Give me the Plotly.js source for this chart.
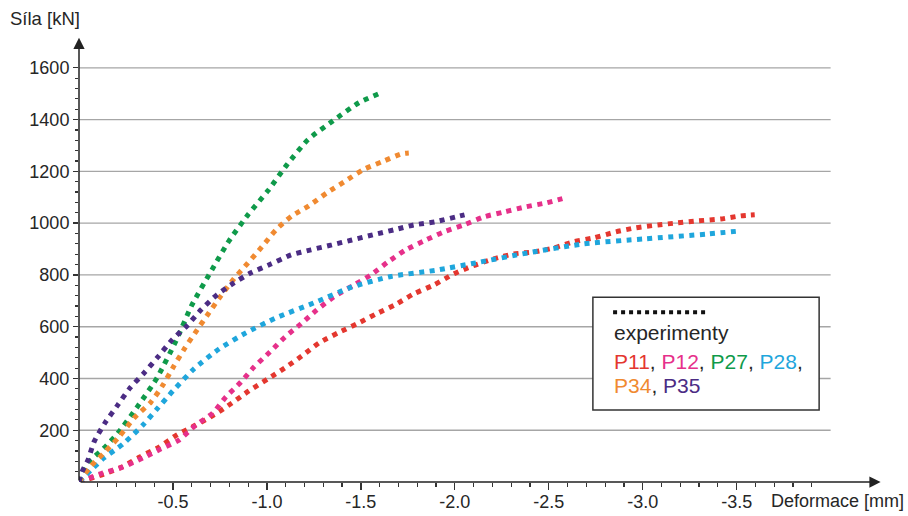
<!DOCTYPE html>
<html>
<head>
<meta charset="utf-8">
<script src="https://cdn.plot.ly/plotly-3.0.1.min.js"></script>
<style>html,body{margin:0;padding:0;background:#fff;}#chart{width:908px;height:516px;}</style>
</head>
<body>
<div id="chart"></div>
<script>
// ---- data (deformation [mm], force [kN]) ----
const xP11 = [0, -0.133, -0.229, -0.324, -0.426, -0.521, -0.622, -0.718, -0.814, -0.904, -1.005, -1.096, -1.186, -1.277, -1.378, -1.479, -1.580, -1.681, -1.782, -1.888, -1.995, -2.096, -2.207, -2.314, -2.420, -2.527, -2.633, -2.739, -2.856, -2.963, -3.080, -3.186, -3.298, -3.415, -3.521, -3.596];
const yP11 = [0, 31, 58, 97, 135, 182, 220, 259, 305, 352, 398, 441, 487, 537, 576, 611, 649, 684, 727, 761, 804, 835, 862, 881, 889, 904, 928, 943, 966, 982, 993, 1001, 1009, 1016, 1028, 1032];

const xP12 = [0, -0.128, -0.234, -0.340, -0.436, -0.532, -0.622, -0.713, -0.782, -0.862, -0.931, -1.016, -1.096, -1.181, -1.266, -1.356, -1.463, -1.553, -1.644, -1.739, -1.846, -1.941, -2.048, -2.154, -2.261, -2.378, -2.484, -2.590];
const yP12 = [0, 35, 58, 93, 128, 162, 220, 267, 329, 386, 444, 502, 560, 611, 665, 715, 761, 800, 850, 897, 935, 966, 993, 1024, 1043, 1063, 1078, 1098];

const xP27 = [0, -0.053, -0.133, -0.207, -0.314, -0.415, -0.516, -0.601, -0.713, -0.798, -0.899, -1.005, -1.106, -1.218, -1.351, -1.489, -1.596];
const yP27 = [0, 77, 131, 189, 294, 402, 545, 684, 827, 931, 1032, 1125, 1225, 1322, 1395, 1465, 1500];

const xP28 = [0, -0.064, -0.133, -0.234, -0.340, -0.420, -0.500, -0.612, -0.745, -0.888, -1.048, -1.250, -1.447, -1.660, -1.899, -2.122, -2.388, -2.686, -3.005, -3.346, -3.521];
const yP28 = [0, 46, 93, 147, 220, 286, 352, 437, 514, 576, 634, 692, 752, 794, 818, 848, 885, 920, 939, 958, 970];

const xP34 = [0, -0.064, -0.138, -0.213, -0.293, -0.383, -0.447, -0.505, -0.564, -0.628, -0.691, -0.755, -0.824, -0.899, -0.973, -1.048, -1.133, -1.223, -1.319, -1.410, -1.511, -1.612, -1.718, -1.755];
const yP34 = [0, 62, 116, 174, 247, 309, 375, 448, 518, 587, 653, 719, 785, 846, 908, 974, 1028, 1067, 1117, 1159, 1206, 1237, 1268, 1271];

const xP35 = [0, -0.016, -0.048, -0.080, -0.138, -0.207, -0.271, -0.346, -0.420, -0.495, -0.574, -0.649, -0.734, -0.824, -0.915, -1.021, -1.128, -1.234, -1.346, -1.452, -1.564, -1.676, -1.782, -1.894, -2.005, -2.074];
const yP35 = [0, 39, 85, 155, 228, 298, 363, 421, 483, 549, 603, 665, 723, 769, 808, 842, 877, 897, 916, 935, 955, 974, 993, 1005, 1024, 1036];

const seriesNames = ['P11', 'P12', 'P27', 'P28', 'P34', 'P35'];
const xTickVals = [-0.5, -1.0, -1.5, -2.0, -2.5, -3.0, -3.5];
const xTickText = ['-0.5', '-1.0', '-1.5', '-2.0', '-2.5', '-3.0', '-3.5'];
const yTickVals = [200, 400, 600, 800, 1000, 1200, 1400, 1600];
const yTickText = ['200', '400', '600', '800', '1000', '1200', '1400', '1600'];
const xTitle = 'Deformace [mm]';
const yTitle = 'Síla [kN]';
const legendTitle = 'experimenty';

// ---- styles ----
const colors = {P11: '#e4372f', P12: '#e6308a', P27: '#0f9a4a', P28: '#1fa6dc', P34: '#f08a31', P35: '#4b2c84'};
const FONT = 'Liberation Sans, Arial, sans-serif';
const TXT = '#262626';

const seriesX = {P11: xP11, P12: xP12, P27: xP27, P28: xP28, P34: xP34, P35: xP35};
const seriesY = {P11: yP11, P12: yP12, P27: yP27, P28: yP28, P34: yP34, P35: yP35};

const traces = seriesNames.map(n => ({
  type: 'scatter', mode: 'lines', name: n,
  x: seriesX[n], y: seriesY[n],
  line: {color: colors[n], width: 5, dash: '5px,5.5px', shape: 'spline', smoothing: 0.6},
  cliponaxis: false, hoverinfo: 'skip'
}));

// minor tick positions (axis config)
const xMinor = [];
for (let i = 1; i <= 39; i++) { if (i % 5 !== 0) xMinor.push(-i / 10); }
const yMinor = [];
for (let v = 40; v < 1600; v += 40) { if (v % 200 !== 0) yMinor.push(v); }

const shapes = yTickVals.map(v => ({
  type: 'line', xref: 'x', yref: 'y', x0: 0, x1: -4.0, y0: v, y1: v,
  line: {color: '#a6a6a6', width: 1.4}, layer: 'below'
}));
// legend box
shapes.push({type: 'rect', xref: 'paper', yref: 'paper', x0: 0.636, x1: 0.916, y0: 0.159, y1: 0.408,
  line: {color: '#333', width: 1.5}, fillcolor: '#ffffff', layer: 'above'});
shapes.push({type: 'line', xref: 'paper', yref: 'paper', x0: 0.661, x1: 0.778, y0: 0.375, y1: 0.375,
  line: {color: '#111', width: 4, dash: '4px,4px'}, layer: 'above'});

function span(n) { return '<span style="color:' + colors[n] + '">' + n + '</span>'; }

const annotations = [
  // axis arrows
  {xref: 'x', yref: 'y', axref: 'x', ayref: 'y', x: -4.266, y: 0, ax: 0, ay: 0, text: '',
   showarrow: true, arrowhead: 2, arrowsize: 1.5, arrowwidth: 1.5, arrowcolor: '#222', standoff: 0, startstandoff: 0},
  {xref: 'x', yref: 'y', axref: 'x', ayref: 'y', x: 0, y: 1716, ax: 0, ay: 0, text: '',
   showarrow: true, arrowhead: 2, arrowsize: 1.5, arrowwidth: 1.5, arrowcolor: '#222', standoff: 0, startstandoff: 0},
  // axis titles
  {xref: 'paper', yref: 'paper', x: -0.088, y: 1.024, xanchor: 'left', yanchor: 'middle', showarrow: false,
   text: yTitle, font: {family: FONT, size: 18.5, color: TXT}},
  {xref: 'paper', yref: 'paper', x: 1.024, y: -0.043, xanchor: 'right', yanchor: 'middle', showarrow: false,
   text: xTitle, font: {family: FONT, size: 18, color: TXT}},
  // legend text
  {xref: 'paper', yref: 'paper', x: 0.660, y: 0.329, xanchor: 'left', yanchor: 'middle', showarrow: false,
   text: legendTitle, font: {family: FONT, size: 21, color: TXT}},
  {xref: 'paper', yref: 'paper', x: 0.660, y: 0.265, xanchor: 'left', yanchor: 'middle', showarrow: false,
   text: span('P11') + ', ' + span('P12') + ', ' + span('P27') + ', ' + span('P28') + ',', font: {family: FONT, size: 21, color: TXT}},
  {xref: 'paper', yref: 'paper', x: 0.660, y: 0.214, xanchor: 'left', yanchor: 'middle', showarrow: false,
   text: span('P34') + ', ' + span('P35'), font: {family: FONT, size: 21, color: TXT}}
];

const layout = {
  width: 908, height: 516,
  margin: {l: 79, r: 21, t: 29, b: 34},
  paper_bgcolor: '#fff', plot_bgcolor: '#fff',
  showlegend: false,
  font: {family: FONT, size: 18, color: TXT},
  xaxis: {
    range: [0, -4.3], showgrid: false, zeroline: false, showline: false,
    tickmode: 'array', tickvals: xTickVals, ticktext: xTickText,
    ticks: 'outside', ticklen: 7, tickwidth: 1.3, tickcolor: '#333',
    tickfont: {family: FONT, size: 18, color: TXT}, ticklabelstandoff: -4,
    minor: {tickmode: 'array', tickvals: xMinor, ticks: 'outside', ticklen: 4, tickwidth: 1.2, tickcolor: '#333', showgrid: false}
  },
  yaxis: {
    range: [0, 1750], showgrid: false, zeroline: false, showline: false,
    tickmode: 'array', tickvals: yTickVals, ticktext: yTickText,
    ticks: 'outside', ticklen: 5, tickwidth: 1.3, tickcolor: '#333',
    tickfont: {family: FONT, size: 18, color: TXT},
    minor: {tickmode: 'array', tickvals: yMinor, ticks: 'outside', ticklen: 3, tickwidth: 1.2, tickcolor: '#333', showgrid: false}
  },
  shapes: shapes,
  annotations: annotations
};

Plotly.newPlot('chart', traces, layout, {staticPlot: true, displayModeBar: false});
</script>
</body>
</html>
